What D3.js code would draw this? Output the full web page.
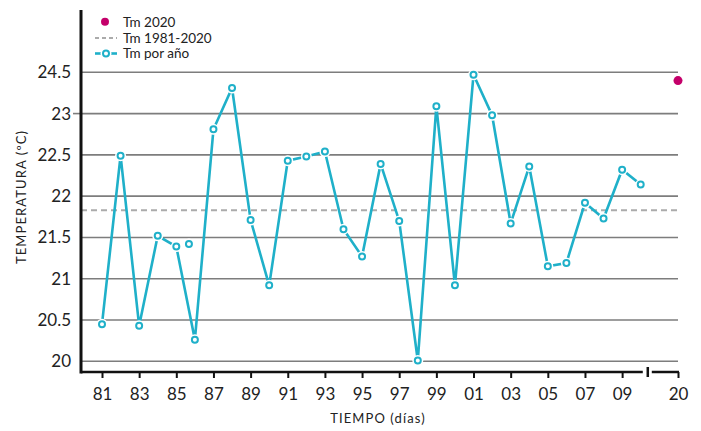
<!DOCTYPE html>
<html>
<head>
<meta charset="utf-8">
<script src="https://cdn.jsdelivr.net/npm/d3@7"></script>
<style>
  body { margin: 0; background: #fff; }
  svg { display: block; font-family: Lato, "Open Sans", sans-serif; }
</style>
</head>
<body>
<div id="chart"></div>
<script>
// yearly mean temperature, 1981-2010
const years = d3.range(1981, 2011);
const tempByYear = [
  20.45, 22.49, 20.43, 21.52, 21.39, 20.26, 22.81, 23.31, 21.71, 20.92,
  22.43, 22.48, 22.54, 21.60, 21.27, 22.39, 21.70, 20.01, 23.09, 20.92,
  23.47, 22.98, 21.67, 22.36, 21.15, 21.19, 21.92, 21.73, 22.32, 22.14
];
// loose marker in the original, not joined to the line
const strayYears = [1985.68];
const strayTemps = [21.42];

const year2020 = [2020];
const temp2020 = [23.40];
const meanTemp = 21.83; // Tm 1981-2020

const xTickYears = [1981, 1983, 1985, 1987, 1989, 1991, 1993, 1995, 1997, 1999,
                    2001, 2003, 2005, 2007, 2009, 2020];
const xTickLabels = ["81", "83", "85", "87", "89", "91", "93", "95", "97", "99",
                     "01", "03", "05", "07", "09", "20"];
const yTickValues = [20, 20.5, 21, 21.5, 22, 22.5, 23, 23.5];
const yTickLabels = ["20", "20.5", "21", "21.5", "22", "22.5", "23", "24.5"];

const teal = "#1fb0c9";
const magenta = "#c4006a";

const width = 701, height = 431;

const svg = d3.select("#chart").append("svg")
    .attr("width", width)
    .attr("height", height);

// years 2011-2019 are squeezed out, hence the 3-stop domain
const x = d3.scaleLinear()
    .domain([1981, 2010, 2020])
    .range([102, 640.7, 678]);

const y = d3.scaleLinear()
    .domain([20, 23.5])
    .range([361.3, 72.3]);

const axisX = 81, axisY = 372;

// grid
svg.append("g")
  .selectAll("line")
  .data(yTickValues)
  .join("line")
    .attr("x1", axisX)
    .attr("x2", x(2020))
    .attr("y1", d => y(d))
    .attr("y2", d => y(d))
    .attr("stroke", "#7d7d7d")
    .attr("stroke-width", 1.6);

// small outside tick next to 23, as in the original
svg.append("line")
    .attr("x1", axisX - 8).attr("x2", axisX)
    .attr("y1", y(23)).attr("y2", y(23))
    .attr("stroke", "#7d7d7d")
    .attr("stroke-width", 1.6);

// mean 1981-2020
svg.append("line")
    .attr("x1", axisX)
    .attr("x2", x(2020))
    .attr("y1", y(meanTemp))
    .attr("y2", y(meanTemp))
    .attr("stroke", "#ababab")
    .attr("stroke-width", 2)
    .attr("stroke-dasharray", "6,4");

// y axis
const yAxis = svg.append("g")
    .attr("transform", `translate(${axisX},0)`)
    .call(d3.axisLeft(y)
        .tickValues(yTickValues)
        .tickFormat((d, i) => yTickLabels[i])
        .tickSize(0)
        .tickPadding(10));
yAxis.select(".domain").remove();
yAxis.selectAll("text")
    .attr("font-size", 17)
    .attr("fill", "#222")
    .style("font-family", "Lato, sans-serif");

svg.append("line")
    .attr("x1", axisX).attr("x2", axisX)
    .attr("y1", 10).attr("y2", axisY + 1.5)
    .attr("stroke", "#111")
    .attr("stroke-width", 3);

// x axis
const xAxis = svg.append("g")
    .attr("transform", `translate(0,${axisY})`)
    .call(d3.axisBottom(x)
        .tickValues(xTickYears)
        .tickFormat((d, i) => xTickLabels[i])
        .tickSizeInner(6)
        .tickSizeOuter(0)
        .tickPadding(10));
xAxis.select(".domain").remove();
xAxis.selectAll(".tick line")
    .attr("stroke", "#111")
    .attr("stroke-width", 2);
xAxis.selectAll("text")
    .attr("font-size", 17)
    .attr("fill", "#222")
    .style("font-family", "Lato, sans-serif");

// axis line with break between 2010 and 2020
const breakX = x(2011.9);
const axisSegments = [[axisX, breakX - 5], [breakX + 4, x(2020) + 1]];
svg.append("g")
  .selectAll("line")
  .data(axisSegments)
  .join("line")
    .attr("x1", d => d[0])
    .attr("x2", d => d[1])
    .attr("y1", axisY)
    .attr("y2", axisY)
    .attr("stroke", "#111")
    .attr("stroke-width", 2.5);
svg.append("line")
    .attr("x1", breakX).attr("x2", breakX)
    .attr("y1", axisY - 5).attr("y2", axisY + 5)
    .attr("stroke", "#111")
    .attr("stroke-width", 2.5);

// axis titles
svg.append("text")
    .attr("x", 378)
    .attr("y", 423)
    .attr("text-anchor", "middle")
    .attr("font-size", 13)
    .attr("letter-spacing", 1.1)
    .attr("fill", "#222")
    .text("TIEMPO (días)");

svg.append("text")
    .attr("transform", "translate(26,197) rotate(-90)")
    .attr("text-anchor", "middle")
    .attr("font-size", 13)
    .attr("letter-spacing", 1.1)
    .attr("fill", "#222")
    .text("TEMPERATURA (ºC)");

// yearly series
const series = years.map((yr, i) => ({ year: yr, temp: tempByYear[i] }));
const line = d3.line()
    .x(d => x(d.year))
    .y(d => y(d.temp));

svg.append("path")
    .datum(series)
    .attr("fill", "none")
    .attr("stroke", teal)
    .attr("stroke-width", 2.6)
    .attr("stroke-linejoin", "miter")
    .attr("d", line);

const markers = series.concat(strayYears.map((yr, i) => ({ year: yr, temp: strayTemps[i] })));

// white halo so the line stops short of each ring
svg.append("g")
  .selectAll("circle")
  .data(markers)
  .join("circle")
    .attr("cx", d => x(d.year))
    .attr("cy", d => y(d.temp))
    .attr("r", 5.5)
    .attr("fill", "#fff");

svg.append("g")
  .selectAll("circle")
  .data(markers)
  .join("circle")
    .attr("cx", d => x(d.year))
    .attr("cy", d => y(d.temp))
    .attr("r", 3)
    .attr("fill", "#fff")
    .attr("stroke", teal)
    .attr("stroke-width", 2);

// 2020
svg.append("g")
  .selectAll("circle")
  .data(year2020)
  .join("circle")
    .attr("cx", d => x(d))
    .attr("cy", (d, i) => y(temp2020[i]))
    .attr("r", 4.5)
    .attr("fill", magenta);

// legend
const legend = svg.append("g").attr("font-size", 13.5).attr("fill", "#222");
legend.append("circle")
    .attr("cx", 105).attr("cy", 21.7).attr("r", 4)
    .attr("fill", magenta);
legend.append("text").attr("x", 123).attr("y", 26.5).text("Tm 2020");

legend.append("line")
    .attr("x1", 95).attr("x2", 117)
    .attr("y1", 38).attr("y2", 38)
    .attr("stroke", "#ababab")
    .attr("stroke-width", 1.8)
    .attr("stroke-dasharray", "4,3");
legend.append("text").attr("x", 123).attr("y", 42.5).text("Tm 1981-2020");

legend.append("line")
    .attr("x1", 95).attr("x2", 117)
    .attr("y1", 53.5).attr("y2", 53.5)
    .attr("stroke", teal)
    .attr("stroke-width", 2.6);
legend.append("circle")
    .attr("cx", 106).attr("cy", 53.5).attr("r", 5.5)
    .attr("fill", "#fff");
legend.append("circle")
    .attr("cx", 106).attr("cy", 53.5).attr("r", 3)
    .attr("fill", "#fff")
    .attr("stroke", teal)
    .attr("stroke-width", 2);
legend.append("text").attr("x", 123).attr("y", 58).text("Tm por año");
</script>
</body>
</html>
